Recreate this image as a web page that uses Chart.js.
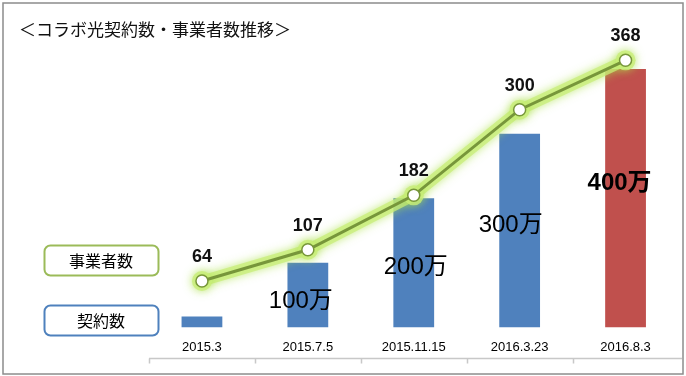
<!DOCTYPE html>
<html>
<head>
<meta charset="utf-8">
<script src="https://cdn.jsdelivr.net/npm/chart.js@4.4.0/dist/chart.umd.min.js"></script>
<style>
  body { margin: 0; background: #fff; }
</style>
</head>
<body>
<canvas id="chart" width="686" height="376"></canvas>
<script>
// 契約数 (万) と 事業者数
const categories = ['2015.3', '2015.7.5', '2015.11.15', '2016.3.23', '2016.8.3'];
const contracts = [17, 100, 200, 300, 400];
const contractText = ['', '100万', '200万', '300万', '400万'];
const operators = [64, 107, 182, 300, 368];
const barColors = ['#4f81bd', '#4f81bd', '#4f81bd', '#4f81bd', '#c0504d'];

const titleText = '＜コラボ光契約数・事業者数推移＞';

// label nudges (px) for the bar texts
const barTextShift = [[0, 0], [-7, 6], [2, 5], [-9, -5], [-6, -15]];

const jp = '"Noto Sans CJK JP", sans-serif';
const num = '"Liberation Sans", "Noto Sans CJK JP", sans-serif';

const decor = {
  id: 'decor',
  beforeDraw(chart) {
    const ctx = chart.ctx;
    ctx.save();
    ctx.fillStyle = '#fff';
    ctx.fillRect(0, 0, chart.width, chart.height);
    ctx.strokeStyle = '#8c8c8c';
    ctx.lineWidth = 1.5;
    ctx.strokeRect(3, 3, chart.width - 6, chart.height - 5);

    ctx.fillStyle = '#111';
    ctx.font = '17px ' + jp;
    ctx.textBaseline = 'middle';
    ctx.fillText(titleText, 19, 30);

    // legend-like boxes
    const boxes = [
      { text: chart.data.datasets[0].label, color: '#9bbb59', y: 245 },
      { text: chart.data.datasets[1].label, color: '#4f81bd', y: 305 }
    ];
    boxes.forEach(b => {
      ctx.beginPath();
      ctx.roundRect(44.5, b.y + 0.5, 114, 30, 6);
      ctx.lineWidth = 2;
      ctx.strokeStyle = b.color;
      ctx.stroke();
      ctx.fillStyle = '#000';
      ctx.font = '16px ' + jp;
      ctx.textAlign = 'center';
      ctx.fillText(b.text, 101, b.y + 16);
    });

    // axis line under the category labels
    const x = chart.scales.x;
    const yLine = chart.chartArea.bottom + 31;
    ctx.strokeStyle = '#c8c8c8';
    ctx.lineWidth = 1.5;
    ctx.beginPath();
    ctx.moveTo(x.left, yLine);
    ctx.lineTo(chart.width - 4, yLine);
    const half = (x.getPixelForValue(1) - x.getPixelForValue(0)) / 2;
    for (let i = 0; i < categories.length; i++) {
      const px = Math.round(x.getPixelForValue(i) - half) + 0.5;
      ctx.moveTo(px, yLine);
      ctx.lineTo(px, yLine + 5);
    }
    ctx.stroke();
    ctx.restore();
  },
  beforeDatasetDraw(chart, args) {
    if (args.index !== 0) return;
    const pts = chart.getDatasetMeta(0).data;
    const ctx = chart.ctx;
    ctx.save();
    ctx.lineJoin = 'round';
    ctx.lineCap = 'round';
    ctx.shadowColor = 'rgba(170,225,70,0.9)';
    ctx.shadowBlur = 10;
    ctx.strokeStyle = 'rgba(200,238,120,0.75)';
    ctx.lineWidth = 11;
    ctx.beginPath();
    pts.forEach((p, i) => i ? ctx.lineTo(p.x, p.y) : ctx.moveTo(p.x, p.y));
    ctx.stroke();
    ctx.fillStyle = 'rgba(200,238,120,0.8)';
    pts.forEach(p => {
      ctx.beginPath();
      ctx.arc(p.x, p.y, 10, 0, Math.PI * 2);
      ctx.fill();
    });
    ctx.restore();
  },
  afterDatasetsDraw(chart) {
    const ctx = chart.ctx;
    ctx.save();
    ctx.textAlign = 'center';
    ctx.textBaseline = 'middle';
    ctx.fillStyle = '#000';
    const bars = chart.getDatasetMeta(1).data;
    bars.forEach((b, i) => {
      if (!contractText[i]) return;
      const last = i === bars.length - 1;
      ctx.font = (last ? 'bold ' : '') + '24px ' + num;
      const mid = (b.y + b.base) / 2;
      ctx.fillText(contractText[i], b.x + barTextShift[i][0], mid + barTextShift[i][1]);
    });
    const pts = chart.getDatasetMeta(0).data;
    ctx.font = 'bold 18px ' + num;
    ctx.fillStyle = '#111';
    pts.forEach((p, i) => {
      ctx.fillText(String(operators[i]), p.x, p.y - 24);
    });
    ctx.restore();
  }
};

new Chart(document.getElementById('chart'), {
  data: {
    labels: categories,
    datasets: [
      {
        type: 'line',
        label: '事業者数',
        data: operators,
        yAxisID: 'yOp',
        order: 0,
        borderColor: '#77963a',
        borderWidth: 3,
        pointRadius: 6,
        pointBorderWidth: 1.5,
        pointBackgroundColor: '#fff',
        pointBorderColor: '#77963a',
        tension: 0
      },
      {
        type: 'bar',
        label: '契約数',
        data: contracts,
        yAxisID: 'y',
        order: 1,
        backgroundColor: barColors,
        categoryPercentage: 1,
        barPercentage: 0.385
      }
    ]
  },
  options: {
    responsive: false,
    animation: false,
    layout: { padding: { left: 149, right: 4, top: 40, bottom: 17 } },
    plugins: { legend: { display: false }, tooltip: { enabled: false } },
    scales: {
      x: {
        grid: { display: false },
        border: { display: false },
        ticks: { color: '#000', padding: 4, font: { size: 13, family: num } }
      },
      y: { display: false, min: 0, max: 445 },
      yOp: { display: false, min: 0, max: 396 }
    }
  },
  plugins: [decor]
});
</script>
</body>
</html>
